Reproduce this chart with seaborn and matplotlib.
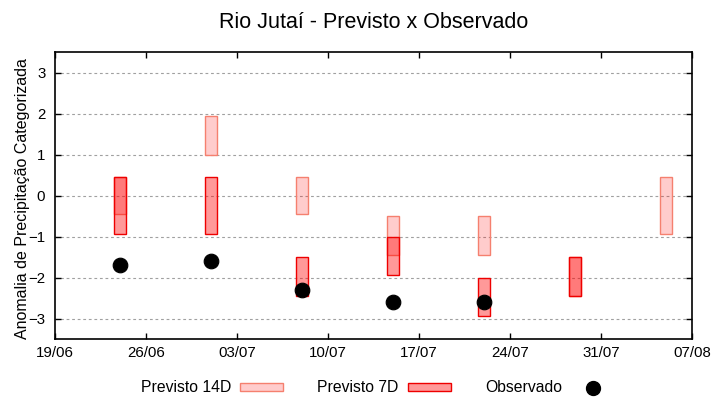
import numpy as np
import pandas as pd
import seaborn as sns
import matplotlib.pyplot as plt
import matplotlib.dates as mdates
from matplotlib.patches import Patch
from matplotlib.lines import Line2D

# datas das previsoes / observacoes
datas = ['2023-06-24', '2023-07-01', '2023-07-08', '2023-07-15',
         '2023-07-22', '2023-07-29', '2023-08-05']
prev14_min = [-0.45, 1.0, -0.45, -1.45, -1.45, -2.45, -0.95]
prev14_max = [0.45, 1.95, 0.45, -0.5, -0.5, -1.5, 0.45]
prev7_min = [-0.95, -0.95, -2.45, -1.95, -2.95, -2.45, np.nan]
prev7_max = [0.45, 0.45, -1.5, -1.0, -2.0, -1.5, np.nan]
observado = [-1.7, -1.6, -2.3, -2.6, -2.6, np.nan, np.nan]

xticks = pd.date_range('2023-06-19', '2023-08-07', freq='7D')

df = pd.DataFrame({
    'data': pd.to_datetime(datas),
    'p14_min': prev14_min, 'p14_max': prev14_max,
    'p7_min': prev7_min, 'p7_max': prev7_max,
    'obs': observado,
})

sns.set_style('white')
plt.rcParams['font.family'] = ['Liberation Sans', 'DejaVu Sans']
plt.rcParams['text.color'] = 'black'
plt.rcParams['axes.labelcolor'] = 'black'
plt.rcParams['xtick.color'] = 'black'
plt.rcParams['ytick.color'] = 'black'

fig = plt.figure(figsize=(7.2, 4), dpi=100)
ax = fig.add_axes([0.0764, 0.1525, 0.8848, 0.7175])

cor14 = (1, 0, 0, 0.2)
borda14 = '#f5806f'
cor7 = (1, 0, 0, 0.4)
borda7 = '#ee0000'
largura = 0.9

# Previsto 14D
d14 = df.dropna(subset=['p14_min'])
ax.bar(d14['data'], d14['p14_max'] - d14['p14_min'], bottom=d14['p14_min'],
       width=largura, color=cor14, edgecolor=borda14, linewidth=1.0, zorder=2)

# Previsto 7D
d7 = df.dropna(subset=['p7_min'])
ax.bar(d7['data'], d7['p7_max'] - d7['p7_min'], bottom=d7['p7_min'],
       width=largura, color=cor7, edgecolor=borda7, linewidth=1.0, zorder=3)

# Observado
dobs = df.dropna(subset=['obs'])
sns.scatterplot(x='data', y='obs', data=dobs, color='black', s=110,
                edgecolor='black', ax=ax, zorder=4, legend=False)

ax.set_xlim(xticks[0], xticks[-1])
ax.set_ylim(-3.5, 3.5)
ax.set_xticks(xticks)
ax.xaxis.set_major_formatter(mdates.DateFormatter('%d/%m'))
ax.set_yticks(range(-3, 4))
ax.set_xlabel('')
ax.set_ylabel('Anomalia de Precipitação Categorizada', fontsize=11.5)
ax.yaxis.set_label_coords(-0.04, 0.49)

ax.tick_params(direction='in', length=4, width=1, color='black', labelcolor='black',
               labelsize=10.8, top=True, right=True, bottom=True, left=True)
ax.tick_params(axis='y', pad=7)
ax.tick_params(axis='x', pad=5)

ax.grid(axis='y', color='#a0a0a0', linestyle=(0, (2.5, 2.5)), linewidth=0.8, zorder=0)
ax.set_axisbelow(True)
for s in ax.spines.values():
    s.set_color('black')
    s.set_linewidth(1.2)

ax.set_title('Rio Jutaí - Previsto x Observado', fontsize=15.5, pad=17, color='black')

handles = [
    Patch(facecolor=cor14, edgecolor=borda14, linewidth=1.0),
    Patch(facecolor=cor7, edgecolor=borda7, linewidth=1.0),
    Line2D([], [], marker='o', color='black', linestyle='none', markersize=10),
]
labels = ['Previsto 14D', 'Previsto 7D', 'Observado']
fig.legend(handles, labels, loc='center', bbox_to_anchor=(0.524, 0.03), ncol=3,
           frameon=False, markerfirst=False, fontsize=11.3, handlelength=2.7,
           handleheight=0.45, handletextpad=0.6, columnspacing=2.2,
           labelcolor='black')

fig.savefig('out.png', dpi=100)
